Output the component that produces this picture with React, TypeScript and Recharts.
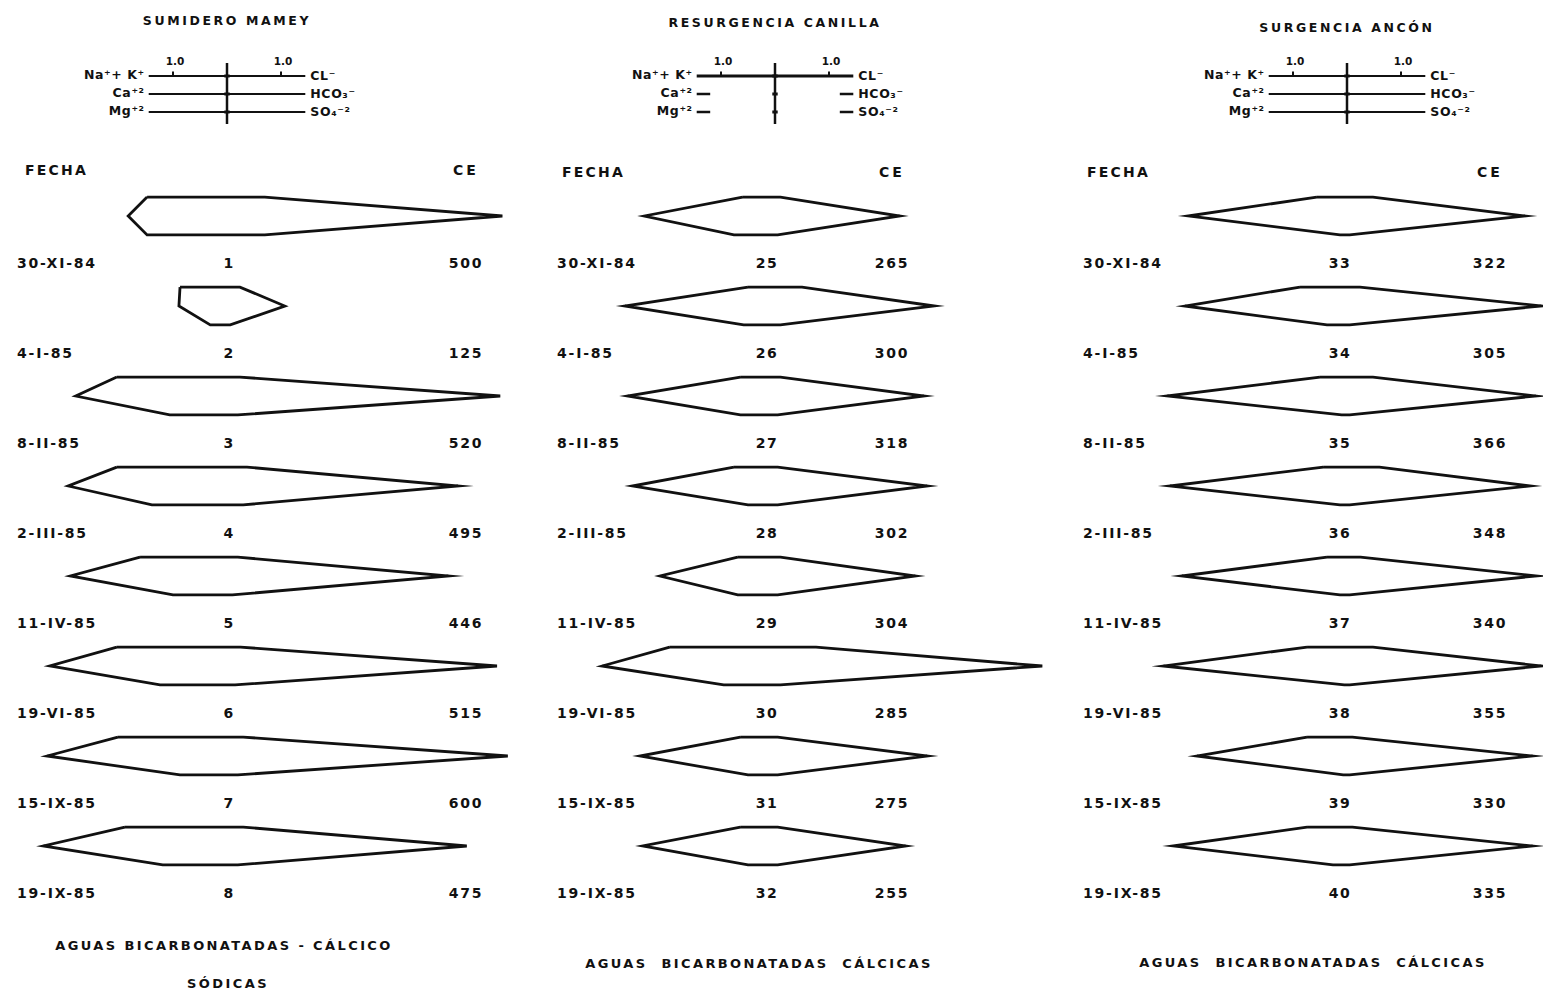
import React from 'react';
import { ScatterChart, Scatter, XAxis, YAxis, ReferenceLine } from 'recharts';

// ---------- DATA ----------
const SAMPLE_DATES = ['30-XI-84', '4-I-85', '8-II-85', '2-III-85', '11-IV-85', '19-VI-85', '15-IX-85', '19-IX-85'];

// Sumidero Mamey (meq/l)
const MAMEY_IDS = ['1', '2', '3', '4', '5', '6', '7', '8'];
const MAMEY_CE = [500, 125, 520, 495, 446, 515, 600, 475];
const MAMEY_NAK = [1.48, 0.87, 2.04, 2.04, 1.61, 2.04, 2.02, 1.89];
const MAMEY_CA = [1.83, 0.89, 2.8, 2.94, 2.9, 3.28, 3.33, 3.4];
const MAMEY_MG = [1.48, 0.31, 1.06, 1.39, 1.0, 1.24, 0.87, 1.19];
const MAMEY_CL = [0.7, 0.24, 0.24, 0.37, 0.2, 0.25, 0.3, 0.3];
const MAMEY_HCO3 = [5.1, 1.07, 5.06, 4.28, 4.1, 5.0, 5.2, 4.44];
const MAMEY_SO4 = [0.7, 0.06, 0.2, 0.3, 0.1, 0.15, 0.2, 0.2];

// Resurgencia Canilla
const CANILLA_IDS = ['25', '26', '27', '28', '29', '30', '31', '32'];
const CANILLA_CE = [265, 300, 318, 302, 304, 285, 275, 255];
const CANILLA_NAK = [0.6, 0.5, 0.64, 0.76, 0.69, 1.95, 0.64, 0.64];
const CANILLA_CA = [2.42, 2.78, 2.73, 2.64, 2.13, 3.2, 2.5, 2.45];
const CANILLA_MG = [0.76, 0.58, 0.64, 0.5, 0.69, 0.95, 0.5, 0.5];
const CANILLA_CL = [0.1, 0.5, 0.1, 0.05, 0.1, 0.76, 0.05, 0.05];
const CANILLA_HCO3 = [2.31, 2.95, 2.76, 2.82, 2.6, 4.95, 2.82, 2.42];
const CANILLA_SO4 = [0.05, 0.1, 0.05, 0.05, 0.05, 0.1, 0.05, 0.05];

// Surgencia Ancón
const ANCON_IDS = ['33', '34', '35', '36', '37', '38', '39', '40'];
const ANCON_CE = [322, 305, 366, 348, 340, 355, 330, 335];
const ANCON_NAK = [0.56, 0.87, 0.5, 0.44, 0.37, 0.74, 0.74, 0.74];
const ANCON_CA = [2.94, 3.0, 3.33, 3.28, 3.06, 3.4, 2.78, 3.22];
const ANCON_MG = [0.13, 0.37, 0.1, 0.13, 0.13, 0.05, 0.07, 0.26];
const ANCON_CL = [0.48, 0.24, 0.48, 0.6, 0.25, 0.48, 0.1, 0.1];
const ANCON_HCO3 = [3.3, 3.6, 3.5, 3.39, 3.5, 3.6, 3.44, 3.44];
const ANCON_SO4 = [0.05, 0.05, 0.05, 0.05, 0.05, 0.05, 0.05, 0.05];

const CATION_LABELS = ['Na⁺+ K⁺', 'Ca⁺²', 'Mg⁺²'];
const ANION_LABELS = ['CL⁻', 'HCO₃⁻', 'SO₄⁻²'];
const SCALE_LABEL = '1.0';

// ---------- LAYOUT ----------
const PAGE_W = 1543;
const PAGE_H = 993;
const PX_PER_MEQ = 54;
const ROW_PX = 90;
const FIRST_ROW_PX = 216;
const HALF = 0.21;
const LEGEND_ROW_PX = [76, 94, 112];
const LEGEND_EXT = 1.45;
const INK = '#111';
const FONT = '"DejaVu Sans", Verdana, sans-serif';

const pxToRow = (px: number) => (px - FIRST_ROW_PX) / ROW_PX;
const Y_DOMAIN: [number, number] = [pxToRow(0), pxToRow(PAGE_H)];

type Panel = {
  title: string;
  ids: string[];
  ce: number[];
  na: number[];
  ca: number[];
  mg: number[];
  cl: number[];
  hco3: number[];
  so4: number[];
  footer: string[];
  stubs: boolean;
  left: number;
  width: number;
  center: number;
  titleY: number;
  fechaX: number;
  headY: number;
  ceX: number;
  dateX: number;
  idX: number;
  footerX: number[];
  footerY: number[];
};

const PANELS: Panel[] = [
  {
    title: 'SUMIDERO MAMEY',
    ids: MAMEY_IDS, ce: MAMEY_CE, na: MAMEY_NAK, ca: MAMEY_CA, mg: MAMEY_MG,
    cl: MAMEY_CL, hco3: MAMEY_HCO3, so4: MAMEY_SO4,
    footer: ['AGUAS BICARBONATADAS - CÁLCICO', 'SÓDICAS'],
    stubs: false,
    left: 0, width: 540, center: 227, titleY: 20,
    fechaX: 25, headY: 170, ceX: 466, dateX: 17, idX: 229,
    footerX: [224, 228], footerY: [945, 983],
  },
  {
    title: 'RESURGENCIA CANILLA',
    ids: CANILLA_IDS, ce: CANILLA_CE, na: CANILLA_NAK, ca: CANILLA_CA, mg: CANILLA_MG,
    cl: CANILLA_CL, hco3: CANILLA_HCO3, so4: CANILLA_SO4,
    footer: ['AGUAS  BICARBONATADAS  CÁLCICAS'],
    stubs: true,
    left: 540, width: 540, center: 775, titleY: 22,
    fechaX: 562, headY: 172, ceX: 892, dateX: 557, idX: 767,
    footerX: [759], footerY: [963],
  },
  {
    title: 'SURGENCIA ANCÓN',
    ids: ANCON_IDS, ce: ANCON_CE, na: ANCON_NAK, ca: ANCON_CA, mg: ANCON_MG,
    cl: ANCON_CL, hco3: ANCON_HCO3, so4: ANCON_SO4,
    footer: ['AGUAS  BICARBONATADAS  CÁLCICAS'],
    stubs: false,
    left: 1060, width: 483, center: 1347, titleY: 27,
    fechaX: 1087, headY: 172, ceX: 1490, dateX: 1083, idX: 1340,
    footerX: [1313], footerY: [962],
  },
];

const stiffPolygon = (p: Panel, i: number) => [
  { x: -p.na[i], y: i - HALF },
  { x: -p.ca[i], y: i },
  { x: -p.mg[i], y: i + HALF },
  { x: p.so4[i], y: i + HALF },
  { x: p.hco3[i], y: i },
  { x: p.cl[i], y: i - HALF },
  { x: -p.na[i], y: i - HALF },
];

const NoDot = () => <g />;

const PanelChart = ({ p }: { p: Panel }) => {
  const xDomain: [number, number] = [
    (p.left - p.center) / PX_PER_MEQ,
    (p.left + p.width - p.center) / PX_PER_MEQ,
  ];
  const ly = LEGEND_ROW_PX.map(pxToRow);
  const segs: { a: { x: number; y: number }; b: { x: number; y: number }; w: number }[] = [];
  ly.forEach((y, k) => {
    if (!p.stubs || k === 0) {
      segs.push({ a: { x: -LEGEND_EXT, y }, b: { x: LEGEND_EXT, y }, w: k === 0 && p.stubs ? 3 : 2 });
    } else {
      segs.push({ a: { x: -LEGEND_EXT, y }, b: { x: -LEGEND_EXT + 0.25, y }, w: 2.5 });
      segs.push({ a: { x: LEGEND_EXT - 0.25, y }, b: { x: LEGEND_EXT, y }, w: 2.5 });
    }
  });
  // vertical axis line
  segs.push({ a: { x: 0, y: pxToRow(63) }, b: { x: 0, y: pxToRow(124) }, w: 2.5 });
  // unit ticks
  [-1, 1].forEach((t) => segs.push({ a: { x: t, y: ly[0] }, b: { x: t, y: ly[0] - 0.05 }, w: 2 }));
  // small crosses on axis
  ly.forEach((y) => segs.push({ a: { x: -0.05, y }, b: { x: 0.05, y }, w: 3 }));

  return (
    <ScatterChart width={p.width} height={PAGE_H} margin={{ top: 0, right: 0, bottom: 0, left: 0 }}>
      <XAxis type="number" dataKey="x" domain={xDomain} hide allowDataOverflow />
      <YAxis type="number" dataKey="y" domain={Y_DOMAIN} reversed hide allowDataOverflow width={0} />
      {segs.map((s, k) => (
        <ReferenceLine
          key={'seg' + k}
          segment={[s.a, s.b]}
          stroke={INK}
          strokeWidth={s.w}
          ifOverflow="visible"
        />
      ))}
      {p.ids.map((id, i) => (
        <Scatter
          key={id}
          data={stiffPolygon(p, i)}
          fill={INK}
          line={{ stroke: INK, strokeWidth: 2.8, strokeLinejoin: 'miter', strokeMiterlimit: 12 } as any}
          lineType="joint"
          shape={NoDot}
          isAnimationActive={false}
        />
      ))}
    </ScatterChart>
  );
};

const txt = {
  fontFamily: FONT,
  fontWeight: 700 as const,
  fill: INK,
};

const PanelText = ({ p }: { p: Panel }) => {
  const lineL = p.center - LEGEND_EXT * PX_PER_MEQ;
  const lineR = p.center + LEGEND_EXT * PX_PER_MEQ;
  return (
    <g>
      <text x={p.center} y={p.titleY} textAnchor="middle" dominantBaseline="central" fontSize={12.5} letterSpacing={2.6} style={txt}>
        {p.title}
      </text>
      {[-1, 1].map((t) => (
        <text key={t} x={p.center + t * PX_PER_MEQ + 2} y={61} textAnchor="middle" dominantBaseline="central" fontSize={10.5} style={txt}>
          {SCALE_LABEL}
        </text>
      ))}
      {CATION_LABELS.map((l, k) => (
        <text key={'c' + k} x={lineL - 4} y={LEGEND_ROW_PX[k] - 2} textAnchor="end" dominantBaseline="central" fontSize={12.5} letterSpacing={0.6} style={txt}>
          {l}
        </text>
      ))}
      {ANION_LABELS.map((l, k) => (
        <text key={'a' + k} x={lineR + 5} y={LEGEND_ROW_PX[k] - 1} textAnchor="start" dominantBaseline="central" fontSize={12.5} letterSpacing={0.6} style={txt}>
          {l}
        </text>
      ))}
      <text x={p.fechaX} y={p.headY} dominantBaseline="central" fontSize={14} letterSpacing={2.2} style={txt}>
        FECHA
      </text>
      <text x={p.ceX} y={p.headY} textAnchor="middle" dominantBaseline="central" fontSize={14} letterSpacing={3} style={txt}>
        CE
      </text>
      {SAMPLE_DATES.map((d, i) => {
        const y = FIRST_ROW_PX + ROW_PX * i + 47;
        return (
          <g key={d}>
            <text x={p.dateX} y={y} dominantBaseline="central" fontSize={14} letterSpacing={1.8} style={txt}>
              {d}
            </text>
            <text x={p.idX} y={y} textAnchor="middle" dominantBaseline="central" fontSize={14} letterSpacing={1.5} style={txt}>
              {p.ids[i]}
            </text>
            <text x={p.ceX} y={y} textAnchor="middle" dominantBaseline="central" fontSize={14} letterSpacing={1.8} style={txt}>
              {String(p.ce[i])}
            </text>
          </g>
        );
      })}
      {p.footer.map((f, k) => (
        <text key={f} x={p.footerX[k]} y={p.footerY[k]} textAnchor="middle" dominantBaseline="central" fontSize={13} letterSpacing={2.4} style={{ ...txt, whiteSpace: 'pre' }}>
          {f}
        </text>
      ))}
    </g>
  );
};

export default function App() {
  return (
    <div style={{ position: 'absolute', left: 0, top: 0, width: PAGE_W, height: PAGE_H, background: '#fff', overflow: 'hidden' }}>
      {PANELS.map((p) => (
        <div key={p.title} style={{ position: 'absolute', left: p.left, top: 0, width: p.width, height: PAGE_H }}>
          <PanelChart p={p} />
        </div>
      ))}
      <svg width={PAGE_W} height={PAGE_H} style={{ position: 'absolute', left: 0, top: 0, pointerEvents: 'none' }}>
        {PANELS.map((p) => (
          <PanelText key={p.title} p={p} />
        ))}
      </svg>
    </div>
  );
}
